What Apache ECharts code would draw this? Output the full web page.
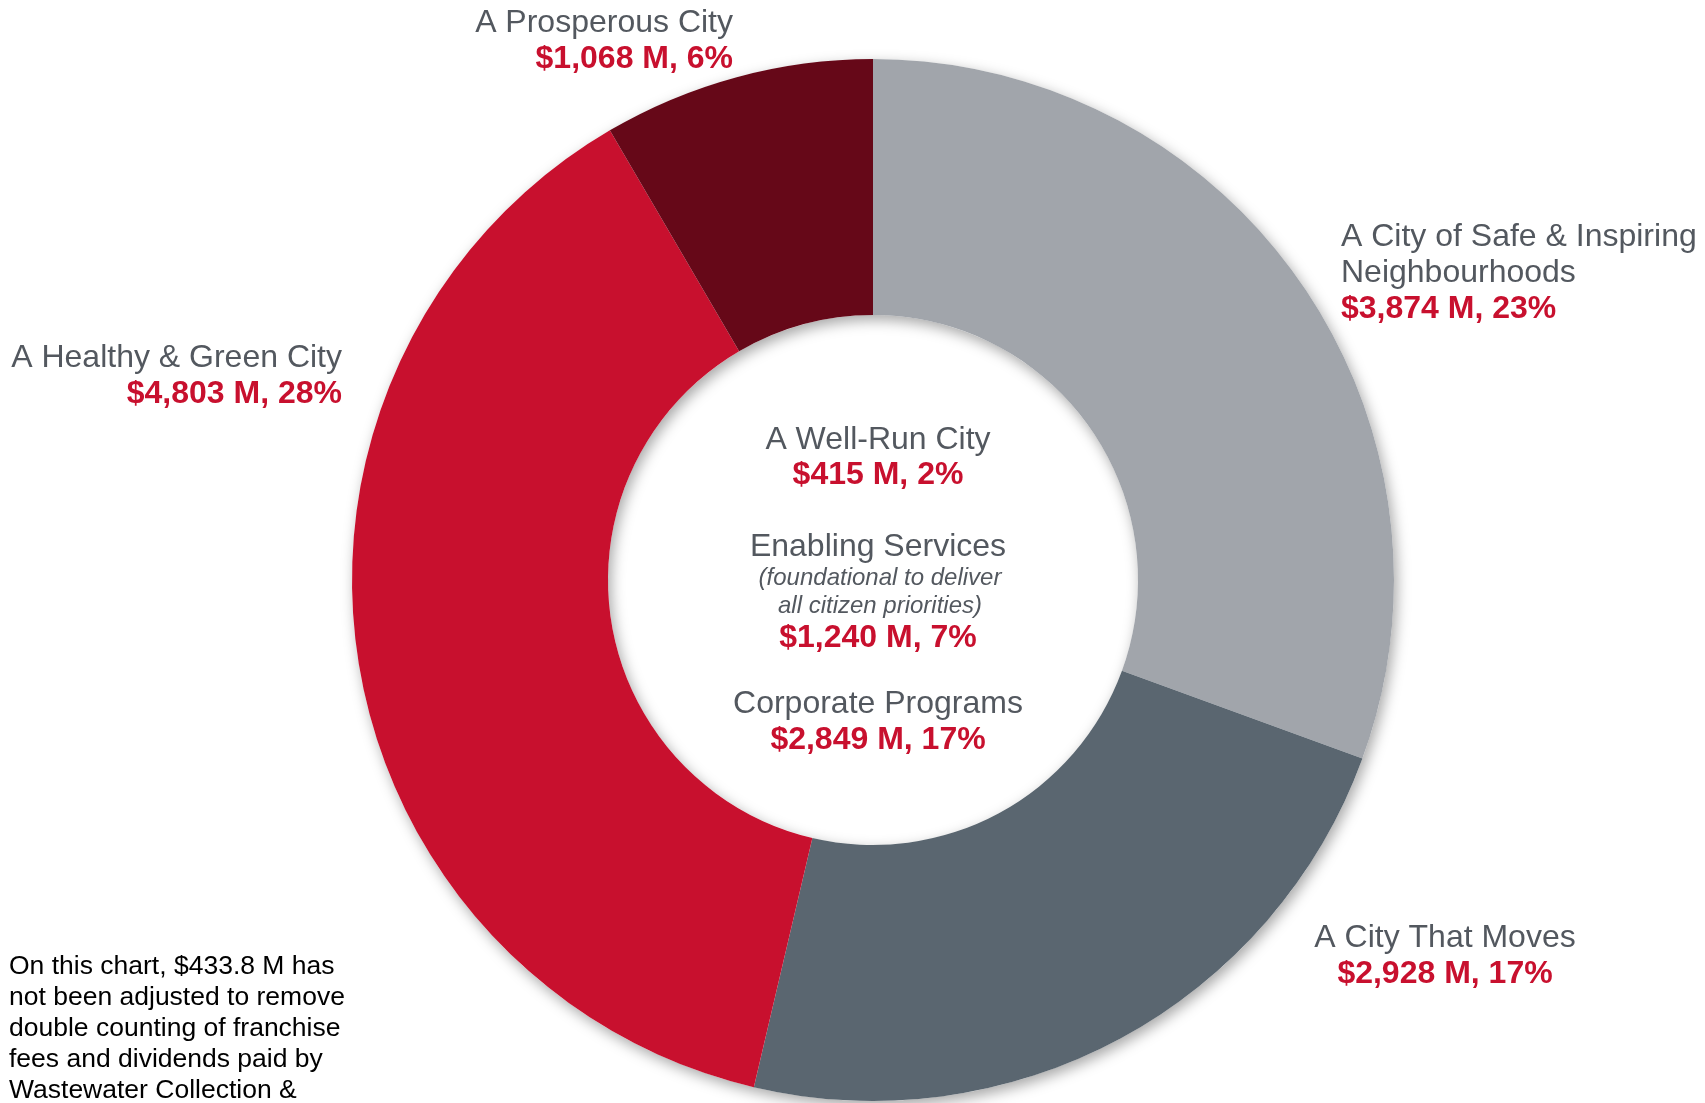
<!DOCTYPE html>
<html lang="en">
<head>
<meta charset="UTF-8">
<title>Budget by Citizen Priority</title>
<script src="https://cdn.jsdelivr.net/npm/echarts@6.0.0/dist/echarts.min.js"></script>
<style>
  html, body { margin: 0; padding: 0; background: #fff; }
  #chart { width: 1705px; height: 1103px; }
</style>
</head>
<body>
<div id="chart"></div>
<script>
// slices of the ring (clockwise from 12 o'clock)
const sliceNames = ['A City of Safe & Inspiring\nNeighbourhoods', 'A City That Moves', 'A Healthy & Green City', 'A Prosperous City'];
const sliceValues = [3874, 2928, 4803, 1068];
const slicePcts = [23, 17, 28, 6];
const sliceColors = ['#A1A5AB', '#5A6670', '#C8102E', '#660818'];

// items listed in the hole
const centerNames = ['A Well-Run City', 'Enabling Services', 'Corporate Programs'];
const centerValues = [415, 1240, 2849];
const centerPcts = [2, 7, 17];
const centerNotes = ['', '(foundational to deliver\nall citizen priorities)', ''];

const footnote = 'On this chart, $433.8 M has\nnot been adjusted to remove\ndouble counting of franchise\nfees and dividends paid by\nWastewater Collection &';

const FONT = '"Liberation Sans", Arial, sans-serif';
const GREY_TXT = '#53585F';
const RED_TXT = '#C8102E';

function money(v, p) {
  return '$' + v.toLocaleString('en-US') + ' M, ' + p + '%';
}

// where each slice label sits
const labelSpots = [
  { x: 1341, y: 219, align: 'left' },
  { x: 1445, y: 920, align: 'center' },
  { x: 342, y: 340, align: 'right' },
  { x: 733, y: 5, align: 'right' }
];

const pieData = sliceValues.map((v, i) => ({
  name: sliceNames[i],
  value: v,
  pct: slicePcts[i],
  itemStyle: { color: sliceColors[i] }
}));

// center block text
const graphics = [];
const centerY = [[440, 475], [547, 638], [704, 740]];
centerNames.forEach((n, i) => {
  graphics.push({
    type: 'text', x: 878, y: centerY[i][0],
    style: { text: n, font: '32px ' + FONT, fill: GREY_TXT, textAlign: 'center', textVerticalAlign: 'middle' }
  });
  if (centerNotes[i]) {
    graphics.push({
      type: 'text', x: 880, y: 564,
      style: { text: centerNotes[i], font: 'italic 24px ' + FONT, fill: GREY_TXT, textAlign: 'center', textVerticalAlign: 'top', lineHeight: 28 }
    });
  }
  graphics.push({
    type: 'text', x: 878, y: centerY[i][1],
    style: { text: money(centerValues[i], centerPcts[i]), font: 'bold 32px ' + FONT, fill: RED_TXT, textAlign: 'center', textVerticalAlign: 'middle' }
  });
});

graphics.push({
  type: 'text', x: 9, y: 951,
  style: { text: footnote, font: '26.5px ' + FONT, fill: '#000', textAlign: 'left', textVerticalAlign: 'top', lineHeight: 31 }
});

const chart = echarts.init(document.getElementById('chart'));
chart.setOption({
  animation: false,
  backgroundColor: '#fff',
  graphic: graphics,
  series: [
    {
      // soft drop shadow under the ring
      type: 'pie',
      silent: true,
      center: [873, 580],
      radius: [265, 521],
      label: { show: false },
      labelLine: { show: false },
      itemStyle: {
        color: '#fff',
        shadowBlur: 14,
        shadowOffsetX: 3,
        shadowOffsetY: 5,
        shadowColor: 'rgba(0,0,0,0.35)'
      },
      data: [1],
      z: 1
    },
    {
      type: 'pie',
      center: [873, 580],
      radius: [265, 521],
      startAngle: 90,
      clockwise: true,
      z: 2,
      itemStyle: { borderWidth: 0 },
      emphasis: { disabled: true },
      labelLine: { show: false },
      label: {
        show: true,
        position: 'outside',
        overflow: 'none',
        fontFamily: FONT,
        formatter: p => '{n|' + p.name.split('\n').join('}\n{n|') + '}\n{v|' + money(p.value, p.data.pct) + '}',
        rich: {
          n: { fontSize: 32, color: GREY_TXT, lineHeight: 36, fontFamily: FONT },
          v: { fontSize: 32, fontWeight: 'bold', color: RED_TXT, lineHeight: 36, fontFamily: FONT }
        }
      },
      labelLayout: p => {
        const s = labelSpots[p.dataIndex];
        return { x: s.x, y: s.y, align: s.align, verticalAlign: 'top', hideOverlap: false };
      },
      data: pieData
    }
  ]
});
</script>
</body>
</html>
